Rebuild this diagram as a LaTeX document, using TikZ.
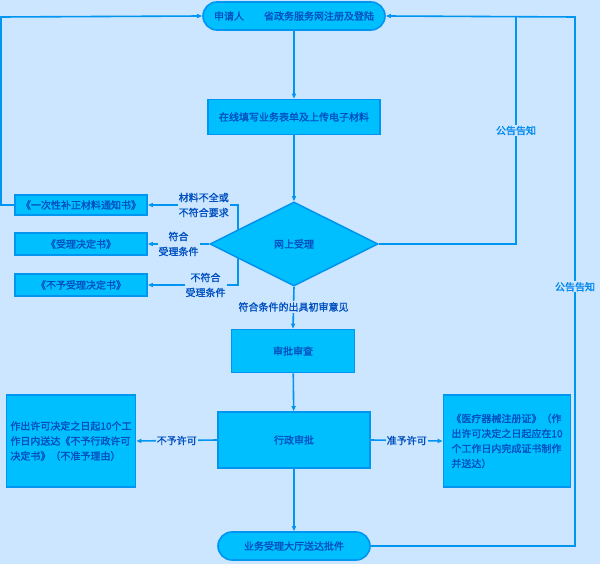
\documentclass[tikz,border=0pt]{standalone}
\usepackage{fontspec}
\setmainfont{Noto Sans CJK SC}[AutoFakeBold=1.6]
\usetikzlibrary{arrows.meta}
\usetikzlibrary{shapes.geometric}
\usepackage{xcolor}
\definecolor{bgblue}{HTML}{CCE6FF}
\definecolor{boxfill}{HTML}{00BFFF}
\definecolor{boxline}{HTML}{0095F0}
\definecolor{txtblue}{HTML}{0050C0}
\definecolor{lblblue}{HTML}{0088EE}

\begin{document}
\begin{tikzpicture}[x=1pt, y=-1pt,
  font=\fontsize{10}{15}\selectfont\bfseries,
  box/.style={draw=boxline, line width=1.6pt, fill=boxfill, text=txtblue,
    inner sep=2pt, minimum width=#1},
  term/.style={box=#1, rounded corners=14pt, minimum height=28pt},
  link/.style={draw=boxline, line width=1.6pt},
  tip/.style={link, -{Triangle[length=5pt, width=4pt, fill=black!80]}},
  lbl/.style={fill=bgblue, text=txtblue, inner sep=1pt, align=center},
  gong/.style={fill=bgblue, text=lblblue, inner sep=1pt}]
  \useasboundingbox[fill=bgblue] (0,0) rectangle (600,564);
  % main column
  \node[term=182pt] (apply) at (294,16) {申请人\hspace{2em}省政务服务网注册及登陆};
  \node[box=172pt, minimum height=35pt] (form) at (294,117) {在线填写业务表单及上传电子材料};
  \node[box=0pt, diamond, minimum width=168pt, minimum height=84pt, aspect=2] (check) at (294,244) {网上受理};
  \node[box=123pt, minimum height=43pt] (review) at (293,351) {审批审查};
  \node[box=152pt, minimum height=56pt] (admin) at (294,440) {行政审批};
  \node[term=152pt] (deliver) at (294,546) {业务受理大厅送达批件};
  % left column
  \node[box=132pt, minimum height=20pt] (notice) at (81,205) {《一次性补正材料通知书》};
  \node[box=132pt, minimum height=22pt] (accept) at (81,244) {《受理决定书》};
  \node[box=132pt, minimum height=22pt] (refuse) at (81,285) {《不予受理决定书》};
  \node[box=129pt, minimum height=92pt, align=left, inner sep=1pt] (deny) at (71,441)
    {作出许可决定之日起10个工\\作日内送达《不予行政许可\\决定书》（不准予理由）};
  \node[box=127pt, minimum height=92pt, align=left, inner sep=1pt] (grant) at (507,441)
    {《医疗器械注册证》（作\\出许可决定之日起应在10\\个工作日内完成证书制作\\并送达）};
  % corners
  \coordinate (up) at (238,230);
  \coordinate (dn) at (238,258);
  \coordinate (topl) at (1,17);
  \coordinate (topm) at (516,17);
  \coordinate (topr) at (575,17);

  \draw[tip] (apply) -- (form);
  \draw[tip] (form) -- (check);
  \draw[tip] (up) |- (notice.east) node[lbl, pos=0.69] {材料不全或\\不符合要求};
  \draw[tip] (check.west) -- (accept.east) node[lbl, pos=0.5] {符合\\受理条件};
  \draw[tip] (dn) |- (refuse.east) node[lbl, pos=0.68] {不符合\\受理条件};
  \draw[tip] (notice.west) -| (topl) -- (apply.west);
  \draw[link] (check.east) -| (topm) node[gong, pos=0.75] {公告告知};
  \draw[tip] (deliver.east) -| (topr) node[gong, pos=0.745] {公告告知} -- (apply.east);
  \draw[tip] (check.south) -- (review.north) node[lbl, pos=0.48] {符合条件的出具初审意见};
  \draw[tip] (review) -- (admin);
  \draw[tip] (admin.west) -- (deny.east) node[lbl, pos=0.5] {不予许可};
  \draw[tip] (admin.east) -- (grant.west) node[lbl, pos=0.5] {准予许可};
  \draw[tip] (admin) -- (deliver);
\end{tikzpicture}
\end{document}
